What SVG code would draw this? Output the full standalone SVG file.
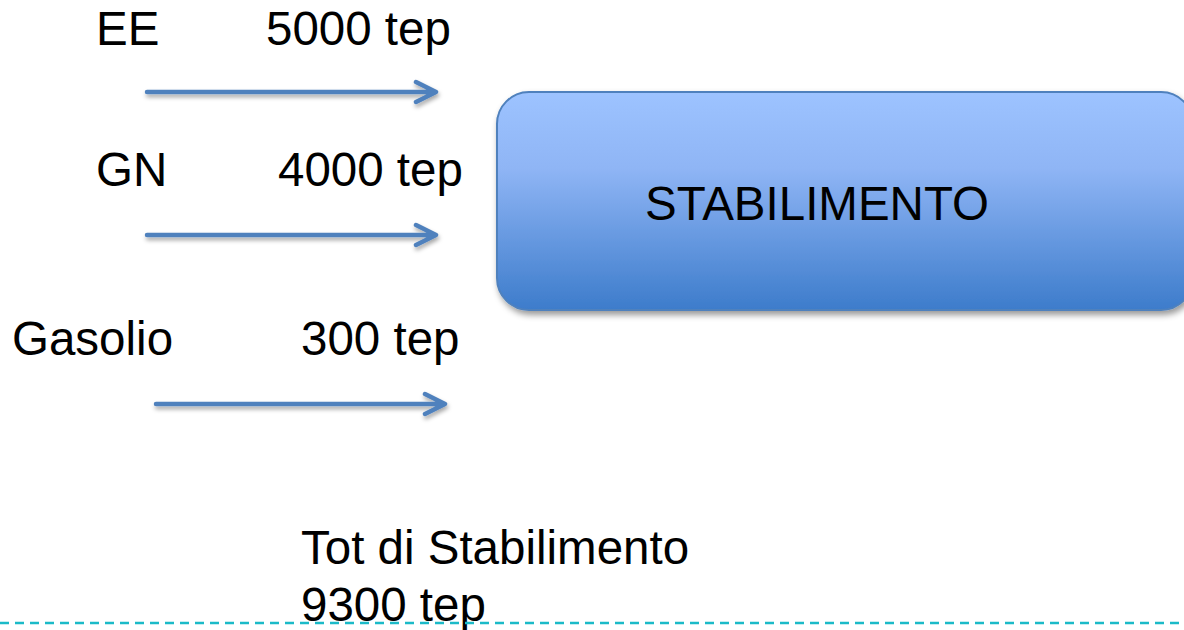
<svg xmlns="http://www.w3.org/2000/svg" width="1184" height="630" viewBox="0 0 1184 630">
<style>
.t{font-family:"Liberation Sans",Arial,sans-serif;font-size:47.5px;fill:#000}
.ar{fill:none;stroke:#4F81BD;stroke-width:4.5;stroke-linecap:round;stroke-linejoin:round}
</style>
<defs>
<linearGradient id="g" x1="0" y1="0" x2="0" y2="1">
<stop offset="0" stop-color="#9DC3FF"/>
<stop offset="0.35" stop-color="#8FB5F5"/>
<stop offset="1" stop-color="#3D7CCB"/>
</linearGradient>
<filter id="sh" x="-10%" y="-10%" width="130%" height="140%">
<feDropShadow dx="2" dy="4" stdDeviation="3" flood-color="#000" flood-opacity="0.4"/>
</filter>
<filter id="ash" x="-5%" y="-50%" width="110%" height="250%">
<feDropShadow dx="1" dy="3" stdDeviation="2" flood-color="#000" flood-opacity="0.35"/>
</filter>
</defs>
<rect width="1184" height="630" fill="#fff"/>
<g id="stabilimento">
<rect x="497" y="92" width="696" height="218" rx="32" fill="url(#g)" stroke="#4F81BD" stroke-width="2" filter="url(#sh)"/>
<text class="t" x="645" y="220">STABILIMENTO</text>
</g>
<g id="ee"><text class="t" x="96" y="45">EE</text><text class="t" x="266" y="45">5000 tep</text></g>
<g id="gn"><text class="t" x="96" y="186">GN</text><text class="t" x="278" y="186">4000 tep</text></g>
<g id="gasolio"><text class="t" x="12" y="355">Gasolio</text><text class="t" x="301" y="355">300 tep</text></g>
<g id="totale"><text class="t" x="301" y="564">Tot di Stabilimento</text><text class="t" x="301" y="621">9300 tep</text></g>
<g id="connectors" filter="url(#ash)">
<path class="ar" d="M147 92H435M416 82L436 92L416 102"/>
<path class="ar" d="M147 235H435M416 225L436 235L416 245"/>
<path class="ar" d="M156 404H444M425 394L445 404L425 414"/>
</g>
<line x1="0" y1="623" x2="1184" y2="623" stroke="#1BBAC8" stroke-width="2.5" stroke-dasharray="9 6"/>
</svg>
